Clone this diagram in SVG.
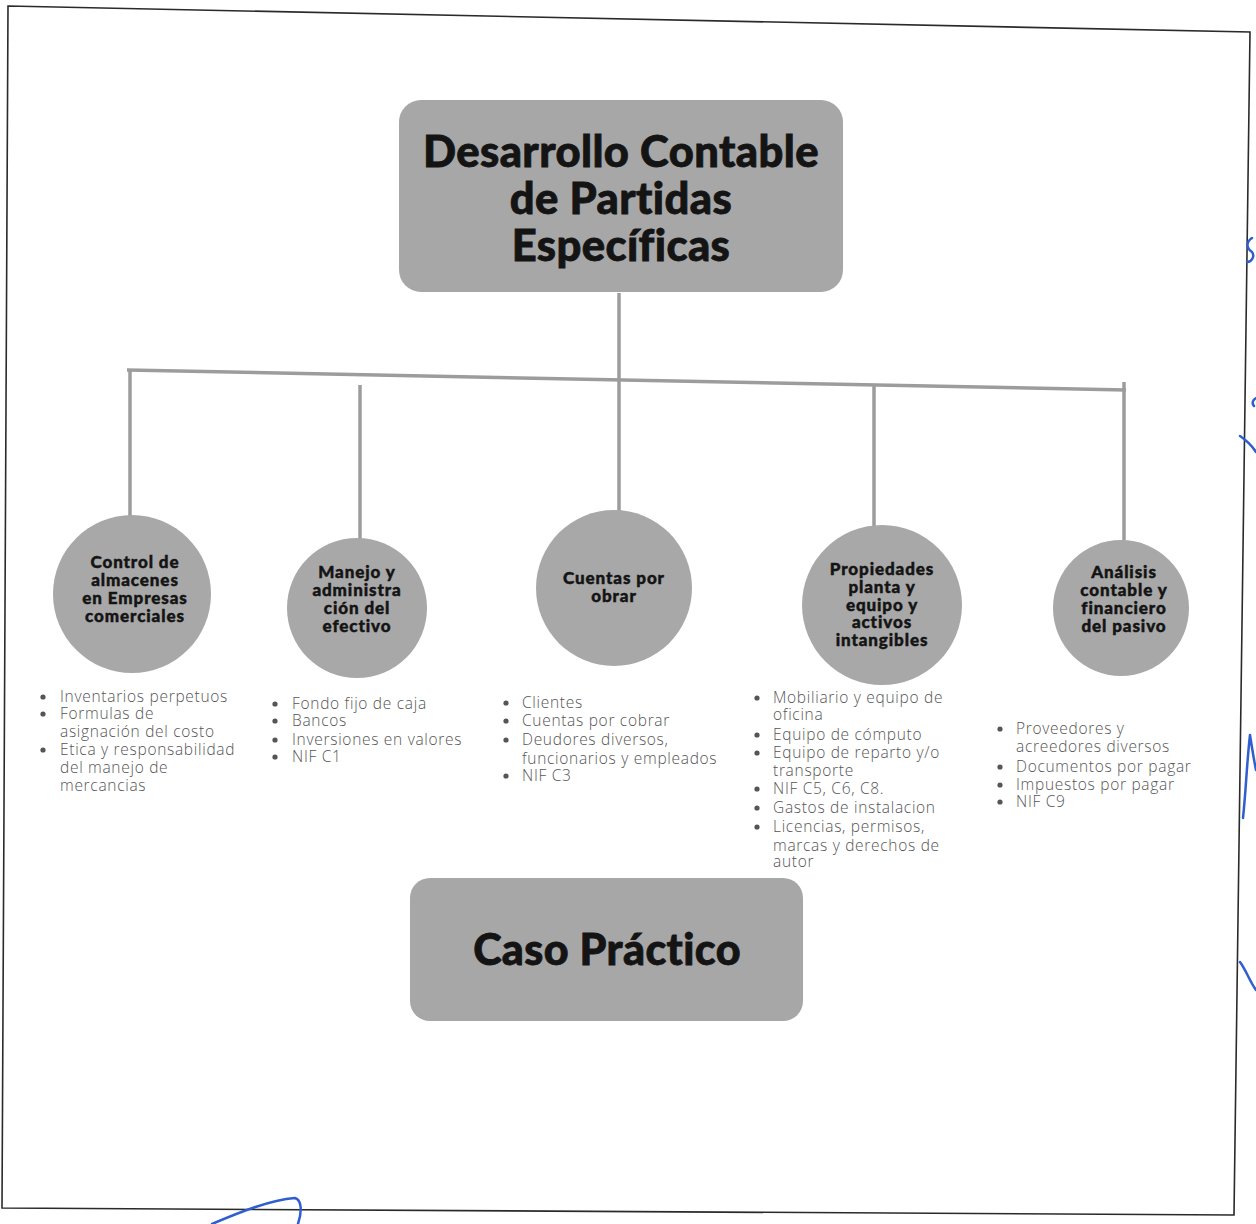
<svg xmlns="http://www.w3.org/2000/svg" width="1256" height="1224" viewBox="0 0 1256 1224">
<style>
.box{fill:#a7a7a7}
.circ{fill:#a8a8a8}
.title{font-family:Lato,"Open Sans",sans-serif;font-weight:900;fill:#141414;text-anchor:middle;stroke:#141414;stroke-width:0.8;letter-spacing:0.4px}
.lbl{font-family:Lato,"Open Sans",sans-serif;font-weight:900;font-size:17px;fill:#141414;text-anchor:middle;stroke:#141414;stroke-width:0.45;letter-spacing:0.9px}
.li{font-family:"Open Sans",Lato,sans-serif;font-weight:300;font-size:15.5px;fill:#555;letter-spacing:0.7px}
.bul{fill:#555}
.con{stroke:#9c9c9c;stroke-width:3.5;fill:none;stroke-linecap:butt}
.pen{stroke:#2f5fcf;stroke-width:2.5;fill:none;stroke-linecap:round;stroke-linejoin:round}
</style>
<rect width="1256" height="1224" fill="#ffffff"/>
<polygon points="8,6 1250,32 1234,1215 2,1208" fill="none" stroke="#2a2a2a" stroke-width="1.6"/>

<g id="connectors">
<line class="con" x1="619" y1="293" x2="619" y2="512"/>
<line class="con" x1="127" y1="370" x2="1126" y2="390" stroke-width="4.5"/>
<line class="con" x1="130" y1="370" x2="130" y2="518"/>
<line class="con" x1="360" y1="385" x2="360" y2="540"/>
<line class="con" x1="874" y1="386" x2="874" y2="526"/>
<line class="con" x1="1124" y1="382" x2="1124" y2="546"/>
</g>

<g id="root">
<rect class="box" x="399" y="100" width="444" height="192" rx="22"/>
<text class="title" font-size="43.5" x="621" y="167">Desarrollo Contable</text>
<text class="title" font-size="43.5" x="621" y="214">de Partidas</text>
<text class="title" font-size="43.5" x="621" y="261">Específicas</text>
</g>

<g id="n1">
<circle class="circ" cx="132" cy="594" r="79"/>
<text class="lbl" x="135" y="568">Control de</text>
<text class="lbl" x="135" y="586">almacenes</text>
<text class="lbl" x="135" y="604">en Empresas</text>
<text class="lbl" x="135" y="622">comerciales</text>
<g>
<circle class="bul" cx="43" cy="697" r="2.6"/><text class="li" x="60" y="702">Inventarios perpetuos</text>
<circle class="bul" cx="43" cy="714" r="2.6"/><text class="li" x="60" y="719">Formulas de</text>
<text class="li" x="60" y="737">asignación del costo</text>
<circle class="bul" cx="43" cy="750" r="2.6"/><text class="li" x="60" y="755">Etica y responsabilidad</text>
<text class="li" x="60" y="773">del manejo de</text>
<text class="li" x="60" y="791">mercancias</text>
</g>
</g>

<g id="n2">
<circle class="circ" cx="357" cy="608" r="70"/>
<text class="lbl" x="357" y="578">Manejo y</text>
<text class="lbl" x="357" y="596">administra</text>
<text class="lbl" x="357" y="614">ción del</text>
<text class="lbl" x="357" y="632">efectivo</text>
<g>
<circle class="bul" cx="275" cy="704" r="2.6"/><text class="li" x="292" y="709">Fondo fijo de caja</text>
<circle class="bul" cx="275" cy="721" r="2.6"/><text class="li" x="292" y="726">Bancos</text>
<circle class="bul" cx="275" cy="740" r="2.6"/><text class="li" x="292" y="745">Inversiones en valores</text>
<circle class="bul" cx="275" cy="757" r="2.6"/><text class="li" x="292" y="762">NIF C1</text>
</g>
</g>

<g id="n3">
<circle class="circ" cx="614" cy="588" r="78"/>
<text class="lbl" x="614" y="584">Cuentas por</text>
<text class="lbl" x="614" y="602">obrar</text>
<g>
<circle class="bul" cx="506" cy="703" r="2.6"/><text class="li" x="522" y="708">Clientes</text>
<circle class="bul" cx="506" cy="721" r="2.6"/><text class="li" x="522" y="726">Cuentas por cobrar</text>
<circle class="bul" cx="506" cy="740" r="2.6"/><text class="li" x="522" y="745">Deudores diversos,</text>
<text class="li" x="522" y="764">funcionarios y empleados</text>
<circle class="bul" cx="506" cy="776" r="2.6"/><text class="li" x="522" y="781">NIF C3</text>
</g>
</g>

<g id="n4">
<circle class="circ" cx="882" cy="605" r="80"/>
<text class="lbl" x="882" y="575">Propiedades</text>
<text class="lbl" x="882" y="593">planta y</text>
<text class="lbl" x="882" y="611">equipo y</text>
<text class="lbl" x="882" y="628">activos</text>
<text class="lbl" x="882" y="646">intangibles</text>
<g>
<circle class="bul" cx="757" cy="698" r="2.6"/><text class="li" x="773" y="703">Mobiliario y equipo de</text>
<text class="li" x="773" y="720">oficina</text>
<circle class="bul" cx="757" cy="735" r="2.6"/><text class="li" x="773" y="740">Equipo de cómputo</text>
<circle class="bul" cx="757" cy="753" r="2.6"/><text class="li" x="773" y="758">Equipo de reparto y/o</text>
<text class="li" x="773" y="776">transporte</text>
<circle class="bul" cx="757" cy="789" r="2.6"/><text class="li" x="773" y="794">NIF C5, C6, C8.</text>
<circle class="bul" cx="757" cy="808" r="2.6"/><text class="li" x="773" y="813">Gastos de instalacion</text>
<circle class="bul" cx="757" cy="827" r="2.6"/><text class="li" x="773" y="832">Licencias, permisos,</text>
<text class="li" x="773" y="851">marcas y derechos de</text>
<text class="li" x="773" y="867">autor</text>
</g>
</g>

<g id="n5">
<circle class="circ" cx="1121" cy="608" r="68"/>
<text class="lbl" x="1124" y="578">Análisis</text>
<text class="lbl" x="1124" y="596">contable y</text>
<text class="lbl" x="1124" y="614">financiero</text>
<text class="lbl" x="1124" y="632">del pasivo</text>
<g>
<circle class="bul" cx="1000" cy="729" r="2.6"/><text class="li" x="1016" y="734">Proveedores y</text>
<text class="li" x="1016" y="752">acreedores diversos</text>
<circle class="bul" cx="1000" cy="767" r="2.6"/><text class="li" x="1016" y="772">Documentos por pagar</text>
<circle class="bul" cx="1000" cy="785" r="2.6"/><text class="li" x="1016" y="790">Impuestos por pagar</text>
<circle class="bul" cx="1000" cy="802" r="2.6"/><text class="li" x="1016" y="807">NIF C9</text>
</g>
</g>

<g id="caso">
<rect class="box" x="410" y="878" width="393" height="143" rx="20"/>
<text class="title" font-size="43" x="607" y="965">Caso Práctico</text>
</g>

<g id="pen">
<path class="pen" d="M1252,238 C1246,242 1246,248 1252,252 C1255,256 1252,262 1247,262"/>
<path class="pen" d="M1256,398 C1252,400 1252,404 1254,406"/>
<path class="pen" d="M1240,436 C1246,440 1252,446 1256,452"/>
<path class="pen" d="M1243,818 C1246,790 1247,760 1250,735 C1252,748 1254,760 1256,770"/>
<path class="pen" d="M1240,962 C1246,970 1250,982 1256,990"/>
<path class="pen" d="M212,1224 C240,1212 270,1200 295,1198 C302,1200 302,1212 298,1224"/>
</g>
</svg>
